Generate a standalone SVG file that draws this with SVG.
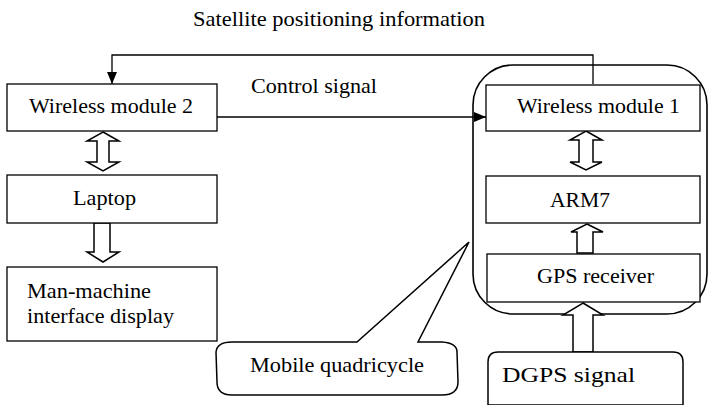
<svg xmlns="http://www.w3.org/2000/svg" width="709" height="405" viewBox="0 0 709 405">
<style>
text{font-family:"Liberation Serif","Times New Roman",serif;font-size:21px;fill:#000}
.box{fill:#fff;stroke:#000;stroke-width:1.3}
.ln{fill:none;stroke:#000;stroke-width:1.3}
.ha{fill:#fff;stroke:#000;stroke-width:1.5;stroke-linejoin:miter}
</style>
<defs>
<marker id="ah" markerWidth="12" markerHeight="10" refX="12" refY="5" orient="auto" markerUnits="userSpaceOnUse">
<path d="M0,0 L12,5 L0,10 Z" fill="#000"/>
</marker>
</defs>
<rect width="709" height="405" fill="#fff"/>
<g id="container">
<rect x="473" y="65" width="234" height="249" rx="40" ry="40" fill="none" stroke="#000" stroke-width="1.6"/>
</g>
<g id="callout">
<path d="M232,342 L357,342 L469,242 L418,342 L442,342 Q457,343 457,352 L458,382 Q458,395 442,395 L232,395 Q217,395 217,382 L216,352 Q217,342 232,342 Z" fill="#fff" stroke="#000" stroke-width="1.5"/>
<text x="250" y="372" textLength="174" lengthAdjust="spacingAndGlyphs">Mobile quadricycle</text>
</g>
<g id="connectors">
<polyline class="ln" points="593,84 593,55 112,55 112,84" marker-end="url(#ah)"/>
<line class="ln" x1="217" y1="117" x2="486" y2="117" marker-end="url(#ah)"/>
<polygon class="ha" points="103,132 119,141 109,141 109,162 119,162 103,171 87,162 97,162 97,141 87,141"/>
<polygon class="ha" points="94,223 110,223 110,252 119,252 103,262 87,252 94,252"/>
<polygon class="ha" points="586,131 602,140 593,140 593,162 602,162 586,170 570,162 579,162 579,140 570,140"/>
<polygon class="ha" points="587,224 603,232 593,232 593,253 577,253 577,232 571,232"/>
<polygon class="ha" points="583,303 603,315 593,315 593,352 573,352 573,315 563,315"/>
</g>
<g id="wireless2">
<rect class="box" x="7" y="84" width="210" height="47"/>
<text x="29" y="113" textLength="164" lengthAdjust="spacingAndGlyphs">Wireless module 2</text>
</g>
<g id="laptop">
<rect class="box" x="7" y="175" width="210" height="48"/>
<text x="73" y="205" textLength="63" lengthAdjust="spacingAndGlyphs">Laptop</text>
</g>
<g id="display">
<rect class="box" x="7" y="267" width="210" height="74"/>
<text x="27" y="298" textLength="124" lengthAdjust="spacingAndGlyphs">Man-machine</text>
<text x="27" y="323" textLength="147" lengthAdjust="spacingAndGlyphs">interface display</text>
</g>
<g id="wireless1">
<rect class="box" x="486" y="85" width="214" height="46"/>
<text x="517" y="113" textLength="163" lengthAdjust="spacingAndGlyphs">Wireless module 1</text>
</g>
<g id="arm7">
<rect class="box" x="486" y="176" width="214" height="47"/>
<text x="550" y="207" textLength="60" lengthAdjust="spacingAndGlyphs">ARM7</text>
</g>
<g id="gps">
<rect class="box" x="487" y="254" width="213" height="48"/>
<text x="537" y="283" textLength="117" lengthAdjust="spacingAndGlyphs">GPS receiver</text>
</g>
<g id="dgps">
<path d="M498,352 L673,352 Q683,352 683,362 L683,405 L488,405 L488,362 Q488,352 498,352 Z" fill="#fff" stroke="#000" stroke-width="1.5"/>
<text x="502" y="382" textLength="133" lengthAdjust="spacingAndGlyphs">DGPS signal</text>
</g>
<g id="labels">
<text x="193" y="26" textLength="292" lengthAdjust="spacingAndGlyphs">Satellite positioning information</text>
<text x="251" y="93" textLength="126" lengthAdjust="spacingAndGlyphs">Control signal</text>
</g>
</svg>
